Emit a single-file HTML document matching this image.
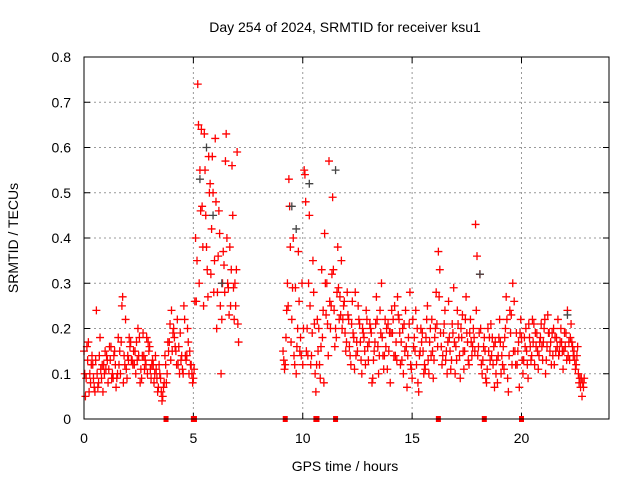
<!DOCTYPE html>
<html><head><meta charset="utf-8"><style>
body{margin:0;background:#fff}
svg{display:block;font-family:"Liberation Sans",sans-serif}
</style></head><body>
<svg id="chart" width="640" height="480">
<text x="345" y="32" font-size="14" text-anchor="middle">Day 254 of 2024, SRMTID for receiver ksu1</text>
<text x="18" y="238" font-size="14" text-anchor="middle" transform="rotate(-90 18 238)">SRMTID / TECUs</text>
<text x="345" y="471" font-size="14" text-anchor="middle">GPS time / hours</text>
<g id="grid"></g>
<g id="marks"></g>
<rect x="84" y="57" width="525" height="362" fill="none" stroke="#000" stroke-width="1"/>
</svg>
<script>
const xTicks=[0,5,10,15,20];
const yTicks=[0,0.1,0.2,0.3,0.4,0.5,0.6,0.7,0.8];
const yTickLabels=["0","0.1","0.2","0.3","0.4","0.5","0.6","0.7","0.8"];
const segmentStarts=[0,3.7,5.1,9.1,11.8];
const segmentLengths=[37,14,20,27,111];
const valuesA=[.15,.09,.17,.08,.12,.06,.10,.14,.09,.12,.11,.08,.13,.10,.15,.09,.12,.17,.08,.22,.14,.16,.13,.12,.17,.14,.11,.19,.13,.10,.16,.12,.08,.11,.07,.09,.05,
.14,.10,.17,.24,.20,.15,.12,.19,.11,.22,.14,.10,.12,.09,
.40,.74,.55,.47,.63,.38,.58,.32,.50,.62,.28,.41,.22,.34,.63,.29,.25,.45,.30,.59,
.15,.12,.30,.47,.22,.14,.10,.37,.18,.12,.54,.20,.45,.14,.28,.06,.15,.09,.18,.41,.30,.57,.25,.33,.20,.38,.27,
.20,.26,.17,.22,.12,.19,.28,.15,.21,.10,.18,.24,.13,.20,.09,.17,.22,.14,.30,.11,.16,.21,.08,.19,.25,.13,.22,.17,.10,.24,.14,.28,.09,.18,.12,.06,.20,.15,.11,.25,.17,.22,.13,.28,.37,.19,.14,.24,.10,.18,.13,.29,.16,.21,.09,.23,.15,.19,.12,.17,.20,.43,.14,.32,.10,.18,.08,.15,.21,.12,.17,.08,.22,.14,.11,.27,.06,.19,.30,.15,.12,.07,.18,.13,.20,.09,.16,.22,.12,.19,.14,.21,.17,.10,.23,.15,.19,.12,.18,.14,.20,.11,.16,.24,.13,.17,.15,.12,.10,.07,.08];
const valuesB=[.05,.13,.10,.14,.07,.24,.08,.11,.06,.15,.13,.16,.09,.14,.07,.18,.10,.27,.12,.09,.18,.13,.15,.10,.20,.08,.14,.11,.18,.15,.09,.12,.14,.06,.10,.04,.08,
.08,.15,.13,.19,.16,.22,.10,.14,.25,.13,.17,.12,.08,.26,
.35,.30,.64,.25,.45,.27,.52,.58,.35,.20,.46,.10,.37,.57,.30,.38,.56,.22,.33,.17,
.11,.24,.53,.17,.40,.29,.20,.15,.30,.55,.15,.30,.12,.35,.10,.22,.12,.33,.08,.23,.14,.20,.49,.16,.28,.22,.35,
.25,.15,.23,.14,.26,.11,.17,.22,.13,.19,.12,.16,.21,.08,.15,.27,.10,.19,.14,.22,.11,.19,.24,.14,.17,.23,.12,.20,.15,.07,.21,.11,.16,.24,.08,.15,.19,.12,.22,.10,.14,.09,.20,.16,.33,.12,.21,.15,.26,.11,.19,.10,.24,.14,.18,.11,.27,.13,.22,.16,.15,.36,.19,.12,.16,.09,.20,.13,.18,.07,.13,.18,.10,.16,.20,.09,.24,.12,.26,.19,.17,.22,.10,.16,.12,.18,.14,.21,.16,.11,.18,.13,.22,.16,.19,.12,.20,.15,.22,.17,.15,.19,.13,.17,.21,.14,.11,.16,.09,.05,.09];
const valuesC=[.10,.16,.06,.12,.09,.13,.07,.18,.12,.10,.14,.11,.16,.09,.12,.10,.15,.25,.14,.11,.13,.17,.12,.15,.13,.18,.09,.14,.12,.17,.11,.13,.10,.09,.12,.06,.07,
.12,.17,.21,.15,.18,.12,.16,.13,.10,.14,.20,.15,.10,.11,
.26,.65,.46,.38,.55,.33,.50,.42,.28,.48,.36,.25,.30,.28,.40,.23,.33,.29,.25,.21,
.13,.18,.25,.38,.29,.12,.16,.26,.14,.20,.48,.14,.25,.19,.21,.12,.20,.16,.24,.30,.21,.26,.32,.24,.18,.29,.23,
.22,.19,.28,.16,.21,.18,.14,.25,.17,.20,.15,.22,.17,.19,.13,.21,.16,.24,.18,.14,.20,.15,.19,.22,.14,.27,.19,.13,.21,.16,.18,.12,.22,.15,.20,.14,.17,.10,.18,.13,.20,.15,.18,.21,.27,.16,.19,.13,.17,.15,.21,.17,.13,.18,.20,.15,.22,.17,.19,.14,.18,.24,.16,.20,.13,.15,.11,.18,.14,.16,.10,.14,.17,.12,.18,.22,.14,.23,.15,.12,.15,.19,.13,.18,.15,.21,.13,.17,.19,.15,.17,.16,.20,.13,.19,.17,.14,.18,.16,.15,.17,.15,.19,.14,.18,.16,.13,.14,.08,.09,.07];
const grayTimes=[5.3,5.6,5.9,6.3,9.5,9.7,10.3,11.5,18.1,22.1];
const grayValues=[.53,.60,.45,.30,.47,.42,.52,.55,.32,.23];
const gapTimes=[3.75,5.0,5.05,9.2,10.6,10.65,11.5,16.2,18.3,20.0];

const X0=84,X1=609,Y0=419,Y1=57,XMAX=24,YMAX=0.8;
const sx=t=>X0+t/XMAX*(X1-X0);
const sy=v=>Y0-v/YMAX*(Y0-Y1);
const NS="http://www.w3.org/2000/svg";
const grid=document.getElementById('grid'),marks=document.getElementById('marks');
function mk(tag,attrs,parent){const e=document.createElementNS(NS,tag);for(const k in attrs)e.setAttribute(k,attrs[k]);parent.appendChild(e);return e;}
xTicks.forEach(t=>{
  const x=sx(t);
  if(t>0){const g=mk('line',{x1:x,x2:x,y1:Y1,y2:Y0,stroke:'#999','stroke-dasharray':'2,3'},grid);
  
  }
  mk('line',{x1:x,x2:x,y1:Y0,y2:Y0-6,stroke:'#000'},grid);
  mk('line',{x1:x,x2:x,y1:Y1,y2:Y1+6,stroke:'#000'},grid);
  const l=mk('text',{x:x,y:Y0+24,'font-size':14,'text-anchor':'middle'},grid);l.textContent=t;
  
  
});
yTicks.forEach((v,i)=>{
  const y=sy(v);
  if(i>0&&i<yTicks.length-1){const g=mk('line',{x1:X0,x2:X1,y1:y,y2:y,stroke:'#999','stroke-dasharray':'2,3'},grid);
  
  }
  mk('line',{x1:X0,x2:X0+6,y1:y,y2:y,stroke:'#000'},grid);
  mk('line',{x1:X1,x2:X1-6,y1:y,y2:y,stroke:'#000'},grid);
  const l=mk('text',{x:X0-13,y:y+5,'font-size':14,'text-anchor':'end'},grid);l.textContent=yTickLabels[i];
  
  
});
function plus(t,v,color){
  const x=sx(t),y=sy(v);
  const p=mk('path',{d:`M${x-4},${y}h8M${x},${y-4}v8`,stroke:color,'stroke-width':1.3,fill:'none'},marks);
  
  
}
let idx=0;
segmentStarts.forEach((s,si)=>{
  for(let j=0;j<segmentLengths[si];j++){
    const t=s+j*0.1;
    plus(t,valuesA[idx],'#f00');
    plus(t+0.033,valuesC[idx],'#f00');
    plus(t+0.066,valuesB[idx],'#f00');
    idx++;
  }
});
grayTimes.forEach((t,i)=>plus(t,grayValues[i],'#444'));
gapTimes.forEach(t=>{
  const r=mk('rect',{x:sx(t)-2.5,y:Y0-3,width:5,height:6,fill:'#f00'},marks);
  
  
});
</script>
</body></html>
